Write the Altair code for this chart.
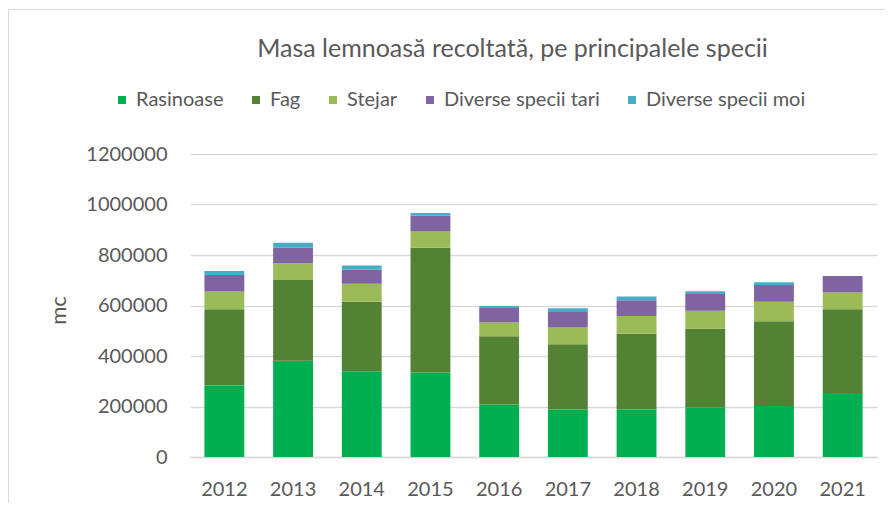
import altair as alt
import pandas as pd

years = ["2012", "2013", "2014", "2015", "2016", "2017", "2018", "2019", "2020", "2021"]
species = ["Rasinoase", "Fag", "Stejar", "Diverse specii tari", "Diverse specii moi"]
colors = ["#00B050", "#548235", "#9BBB59", "#8064A2", "#4BACC6"]

rasinoase = [283000, 381000, 340000, 335000, 208000, 188000, 188000, 197000, 202000, 253000]
fag = [302000, 320000, 275000, 494000, 270000, 259000, 300000, 311000, 336000, 332000]
stejar = [70000, 66000, 71000, 64000, 55000, 66000, 70000, 71000, 77000, 66000]
tari = [66000, 62000, 56000, 63000, 57000, 61000, 63000, 67000, 66000, 66000]
moi = [16000, 20000, 16000, 10000, 8000, 15000, 15000, 10000, 11000, 0]

y_ticks = [0, 200000, 400000, 600000, 800000, 1000000, 1200000]

series = [rasinoase, fag, stejar, tari, moi]
rows = []
for i, yr in enumerate(years):
    for k, s in enumerate(species):
        rows.append({"an": yr, "specie": s, "valoare": series[k][i], "ord": k})
df = pd.DataFrame(rows)

FONT = "Lato"
GREY = "#595959"

bars = alt.Chart(df).mark_bar().encode(
    x=alt.X(
        "an:O",
        title=None,
        scale=alt.Scale(paddingInner=0.42, paddingOuter=0.21),
        axis=alt.Axis(
            labelAngle=0, ticks=False, grid=False,
            domainColor="#D9D9D9", domainWidth=1.5,
            labelPadding=22, labelFontSize=20, labelFont=FONT, labelColor=GREY,
        ),
    ),
    y=alt.Y(
        "valoare:Q",
        stack="zero",
        scale=alt.Scale(domain=[0, 1200000], nice=False),
        axis=alt.Axis(
            values=y_ticks, format="d", title="mc",
            ticks=False, domain=False,
            gridColor="#D9D9D9", gridWidth=1.5,
            labelPadding=23, labelFontSize=20, labelFont=FONT, labelColor=GREY,
            titleFont=FONT, titleFontSize=22, titleColor=GREY, titleFontWeight="normal",
            titleX=-120, titleY=156,
        ),
    ),
    color=alt.Color(
        "specie:N",
        scale=alt.Scale(domain=species, range=colors),
        legend=alt.Legend(
            orient="none", legendX=-78, legendY=-64, direction="horizontal",
            title=None, symbolType="square", symbolSize=64, symbolStrokeWidth=0,
            labelFontSize=20, labelFont=FONT, labelColor=GREY, labelLimit=400,
            columnPadding=22, labelOffset=4, padding=0,
        ),
    ),
    order=alt.Order("ord:Q", sort="ascending"),
)

frame = alt.Chart(alt.Data(values=[{"a": 1}])).mark_rect(
    filled=False, stroke="#D9D9D9", strokeWidth=1
).encode(
    x=alt.value(-181.5), x2=alt.value(760),
    y=alt.value(-144.5), y2=alt.value(420),
)

chart = alt.layer(frame, bars).properties(
    width=687,
    height=303,
    padding={"left": 182, "top": 146, "right": 8, "bottom": 46},
    autosize=alt.AutoSizeParams(type="none"),
    title=alt.TitleParams(
        text="Masa lemnoasă recoltată, pe principalele specii",
        fontSize=25, font=FONT, fontWeight="normal", color=GREY,
        anchor="middle", dx=-21, offset=-53,
    ),
).configure_view(stroke="transparent")

chart.save("out.html", embed_options={"renderer": "svg", "actions": False})
